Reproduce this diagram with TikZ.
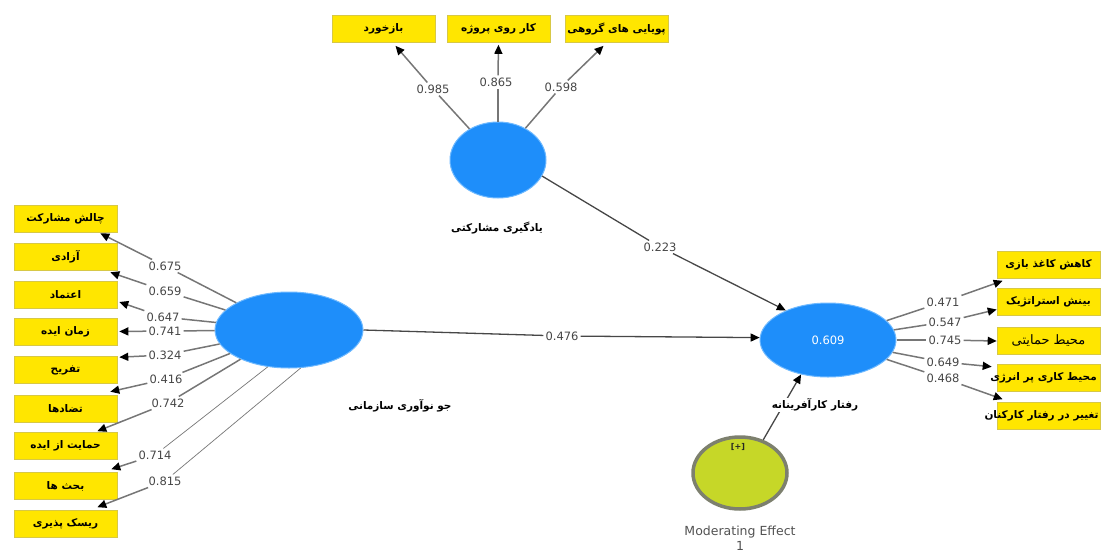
\documentclass[tikz,border=0pt]{standalone}
\usepackage{fontspec}
\usetikzlibrary{shapes.geometric,arrows.meta,calc}
\TeXXeTstate=1
\newfontfamily\fa[Script=Arabic]{DejaVu Sans}
\newfontfamily\numf{DejaVu Sans}
\definecolor{boxyellow}{RGB}{255,230,0}
\definecolor{boxedge}{RGB}{215,200,70}
\definecolor{lvblue}{RGB}{30,142,250}
\definecolor{lvedge}{RGB}{110,185,255}
\definecolor{modfill}{RGB}{198,215,40}
\definecolor{modedge}{RGB}{125,128,110}
\definecolor{numgray}{RGB}{70,70,70}
\definecolor{linegray}{RGB}{118,118,118}
\begin{document}
\begin{tikzpicture}[x=1pt,y=-1pt,
 ind/.style={rectangle, fill=boxyellow, draw=boxedge, line width=0.6pt, minimum width=103pt, minimum height=27pt, inner sep=0pt, font=\fa\bfseries\fontsize{10.5}{11}\selectfont},
 lv/.style={ellipse, fill=lvblue, draw=lvedge, line width=1pt, inner sep=0pt},
 num/.style={font=\numf\fontsize{11.5}{12}\selectfont, text=numgray, inner sep=2pt},
 lvlab/.style={font=\fa\bfseries\fontsize{10.5}{11}\selectfont, inner sep=1pt},
 conn/.style={draw=linegray, line width=1.5pt},
 arr/.style={conn, -{Triangle[length=9pt,width=8pt,color=black]}},
 thinconn/.style={draw=linegray, line width=0.7pt},
 main/.style={draw=black!72, line width=1.3pt},
 mainarr/.style={main, -{Triangle[length=9pt,width=8pt,color=black]}},
]
\useasboundingbox (0,0) rectangle (1104,552);

% latent variables
\node[lv, minimum width=96pt, minimum height=76pt] (C) at (498,160) {};
\node[lv, minimum width=148pt, minimum height=76pt] (E) at (289,330) {};
\node[lv, minimum width=136pt, minimum height=74pt, font=\numf\fontsize{11.5}{12}\selectfont, text=white] (R) at (828,340) {0.609};
\node[ellipse, fill=modfill, draw=modedge, line width=3.5pt, minimum width=94pt, minimum height=72pt, inner sep=0pt] (M) at (740,473) {};
\node[font=\numf\bfseries\fontsize{8}{9}\selectfont, text=black!70!modedge] (Mplus) at (738,447) {[+]};

% top indicators
\node[ind] (t1) at (383.5,29) {\beginR بازخورد\endR};
\node[ind] (t2) at (498.5,29) {\beginR کار روی پروژه\endR};
\node[ind] (t3) at (616.5,29) {\makebox[0pt][c]{\beginR پویایی های گروهی\endR}};

% left indicators
\node[ind] (b1) at (65.5,218.5) {\beginR چالش مشارکت\endR};
\node[ind] (b2) at (65.5,256.5) {\beginR آزادی\endR};
\node[ind] (b3) at (65.5,295) {\beginR اعتماد\endR};
\node[ind] (b4) at (65.5,331.5) {\beginR زمان ایده\endR};
\node[ind] (b5) at (65.5,370) {\beginR تفریح\endR};
\node[ind] (b6) at (65.5,408.5) {\beginR تضادها\endR};
\node[ind] (b7) at (65.5,446) {\beginR حمایت از ایده\endR};
\node[ind] (b8) at (65.5,486) {\beginR بحث ها\endR};
\node[ind] (b9) at (65.5,524) {\beginR ریسک پذیری\endR};

% right indicators
\node[ind] (r1) at (1048.5,265) {\makebox[0pt][c]{\beginR کاهش کاغذ بازی\endR}};
\node[ind] (r2) at (1048.5,301.5) {\beginR بینش استراتژیک\endR};
\node[ind, font=\fa\fontsize{13}{14}\selectfont] (r3) at (1048.5,341) {\beginR محیط حمایتی\endR};
\node[ind] (r4) at (1048.5,377.5) {\makebox[0pt][c]{\hspace*{-10pt}\beginR محیط کاری پر انرژی\endR}};
\node[ind] (r5) at (1048.5,416) {\makebox[0pt][c]{\hspace*{-14pt}\beginR تغییر در رفتار کارکنان\endR}};

% latent labels
\node[lvlab] (Clab) at (497,228) {\beginR یادگیری مشارکتی\endR};
\node[lvlab] (Elab) at (400,406) {\beginR جو نوآوری سازمانی\endR};

% path labels
\node[num] (l985) at (433,89) {0.985};
\node[num] (l865) at (496,82) {0.865};
\node[num] (l598) at (561,87) {0.598};
\node[num] (l675) at (165,266) {0.675};
\node[num] (l659) at (165,291) {0.659};
\node[num] (l647) at (163,317) {0.647};
\node[num] (l741) at (165,331) {0.741};
\node[num] (l324) at (165,355) {0.324};
\node[num] (l416) at (166,379) {0.416};
\node[num] (l742) at (168,403) {0.742};
\node[num] (l714) at (155,455) {0.714};
\node[num] (l815) at (165,481) {0.815};
\node[num] (l471) at (943,302) {0.471};
\node[num] (l547) at (945,322) {0.547};
\node[num] (l745) at (945,340) {0.745};
\node[num] (l649) at (943,362) {0.649};
\node[num] (l468) at (943,378) {0.468};
\node[num] (l223) at (660,247) {0.223};
\node[num] (l476) at (562,336) {0.476};

% top connectors
\draw[conn] (C) -- (l985);
\draw[arr] (l985) -- ($(t1.south)+(12,3)$);
\draw[conn] (C.north) -- (C.north |- l865.south);
\draw[arr] (C.north |- l865.north) -- ($(t2.south)+(0,2)$);
\draw[conn] (C) -- (l598);
\draw[arr] (l598) -- ($(t3.south)+(-13,3)$);

% left connectors
\draw[conn] (E) -- (l675);
\draw[arr] (l675) -- ($(b1.south east)+(-17,1)$);
\draw[conn] (E) -- (l659);
\draw[arr] (l659) -- ($(b2.south east)+(-7,2)$);
\draw[conn] (E) -- (l647);
\draw[arr] (l647) -- ($(b3.east)+(2,7)$);
\draw[conn] (E) -- (l741);
\draw[arr] (l741) -- ($(b4.east)+(2,0)$);
\draw[conn] (E) -- (l324);
\draw[arr] (l324) -- ($(b5.north east)+(2,1)$);
\draw[conn] (E) -- (l416);
\draw[arr] (l416) -- ($(b6.north east)+(-7,-3)$);
\draw[conn] (E) -- (l742);
\draw[arr] (l742) -- ($(b7.north east)+(-20,-1)$);
\draw[thinconn] (E.240) -- (l714);
\draw[arr] (l714) -- ($(b8.north east)+(-6,-3)$);
\draw[thinconn] (E.287) -- (l815);
\draw[arr] (l815) -- ($(b9.north east)+(-20,-3)$);

% right connectors
\draw[conn] (R) -- (l471);
\draw[arr] (l471) -- ($(r1.south west)+(6,2)$);
\draw[conn] (R) -- (l547);
\draw[arr] (l547) -- ($(r2.west)+(0,8)$);
\draw[conn] (R) -- (l745);
\draw[arr] (l745) -- (r3.west);
\draw[conn] (R) -- (l649);
\draw[arr] (l649) -- ($(r4.north west)+(-5,3)$);
\draw[conn] (R) -- (l468);
\draw[arr] (l468) -- ($(r5.north west)+(6,-3)$);

% structural paths
\draw[main] (C.-20) -- (l223);
\draw[mainarr] (l223) -- (R.145);
\draw[main] (E.east) -- (l476);
\draw[mainarr] (l476) -- (R.178);
\draw[mainarr] (M.55) -- (R.232);

% labels drawn over lines
\node[lvlab, fill=white] (Rlab) at (815,405) {\beginR رفتار کارآفرینانه\endR};
\node[font=\numf\fontsize{12.5}{15}\selectfont, text=black!68, align=center] (Mlab) at (740,538) {Moderating Effect\\1};
\end{tikzpicture}
\end{document}
